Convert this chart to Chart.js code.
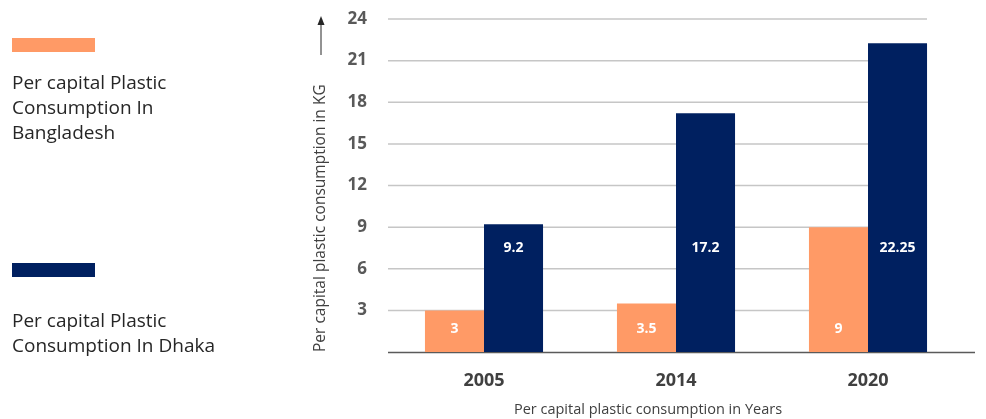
<!DOCTYPE html>
<html>
<head>
<meta charset="utf-8">
<title>Per capita plastic consumption</title>
<script src="https://cdn.jsdelivr.net/npm/chart.js@4.4.1/dist/chart.umd.min.js"></script>
<style>
  body { margin: 0; background: #fff; font-family: "Open Sans", sans-serif; }
  #wrap { position: relative; width: 986px; height: 419px; }
  #wrap canvas { position: absolute; left: 0; top: 0; }
  .swatch { position: absolute; left: 12px; width: 83px; height: 14px; }
  .keytext { position: absolute; left: 12px; font-size: 19px; line-height: 25px; color: #262626; }
</style>
</head>
<body>
<div id="wrap">
  <canvas id="plasticChart" width="986" height="419"></canvas>
  <span class="swatch" style="top:38px;background:#ff9a66"></span>
  <div class="keytext" style="top:70px">Per capital Plastic<br>Consumption In<br>Bangladesh</div>
  <span class="swatch" style="top:263px;background:#002060"></span>
  <div class="keytext" style="top:308px">Per capital Plastic<br>Consumption In Dhaka</div>
</div>
<script>
const years = ["2005", "2014", "2020"];
const bangladeshKg = [3, 3.5, 9];
const dhakaKg = [9.2, 17.2, 22.25];
const yTickValues = [3, 6, 9, 12, 15, 18, 21, 24];

Chart.defaults.font.family = "'Open Sans', sans-serif";

// gridlines stop at the last bar, baseline runs further right
const extras = {
  id: "extras",
  beforeDatasetsDraw(chart) {
    const { ctx, chartArea, scales: { y } } = chart;
    const lastMeta = chart.getDatasetMeta(chart.data.datasets.length - 1);
    const lastBar = lastMeta.data[lastMeta.data.length - 1];
    const gridRight = lastBar.x + lastBar.width / 2;

    ctx.save();
    ctx.strokeStyle = "#c6c6c6";
    ctx.lineWidth = 1.5;
    y.ticks.forEach(t => {
      const py = y.getPixelForValue(t.value);
      ctx.beginPath();
      ctx.moveTo(chartArea.left, py);
      ctx.lineTo(gridRight, py);
      ctx.stroke();
    });

    const base = y.getPixelForValue(0);
    ctx.strokeStyle = "#5a5a5a";
    ctx.lineWidth = 1.5;
    ctx.beginPath();
    ctx.moveTo(chartArea.left, base + 0.5);
    ctx.lineTo(chart.width - 11, base + 0.5);
    ctx.stroke();
    ctx.restore();
  },
  afterDatasetsDraw(chart) {
    const { ctx, scales: { y } } = chart;
    const labelLevel = [1.65, 7.5];
    ctx.save();
    ctx.fillStyle = "#ffffff";
    ctx.font = "bold 14px 'Open Sans', sans-serif";
    ctx.textAlign = "center";
    ctx.textBaseline = "middle";
    chart.data.datasets.forEach((ds, di) => {
      const py = y.getPixelForValue(labelLevel[di]);
      chart.getDatasetMeta(di).data.forEach((bar, i) => {
        ctx.fillText(String(ds.data[i]), bar.x, py);
      });
    });
    ctx.restore();
  },
  afterDraw(chart) {
    const { ctx } = chart;
    ctx.save();
    // arrow above the y title
    ctx.strokeStyle = "#262626";
    ctx.fillStyle = "#262626";
    ctx.lineWidth = 1;
    ctx.beginPath();
    ctx.moveTo(321, 55);
    ctx.lineTo(321, 22);
    ctx.stroke();
    ctx.beginPath();
    ctx.moveTo(321, 16);
    ctx.lineTo(317.5, 25);
    ctx.lineTo(324.5, 25);
    ctx.closePath();
    ctx.fill();

    ctx.fillStyle = "#404040";
    ctx.font = "14.5px 'Open Sans', sans-serif";
    ctx.textAlign = "center";
    ctx.textBaseline = "middle";
    ctx.fillText("Per capital plastic consumption in Years", 648, 410);
    ctx.restore();
  }
};

new Chart(document.getElementById("plasticChart"), {
  type: "bar",
  data: {
    labels: years,
    datasets: [
      {
        label: "Per capital Plastic Consumption In Bangladesh",
        data: bangladeshKg,
        backgroundColor: "#ff9a66"
      },
      {
        label: "Per capital Plastic Consumption In Dhaka",
        data: dhakaKg,
        backgroundColor: "#002060"
      }
    ]
  },
  options: {
    responsive: false,
    animation: false,
    categoryPercentage: 0.615,
    barPercentage: 1,
    layout: { padding: { left: 300, top: 19, right: 22, bottom: 0 } },
    plugins: {
      legend: { display: false },
      tooltip: { enabled: false }
    },
    scales: {
      x: {
        grid: { display: false },
        border: { display: false },
        ticks: { font: { size: 18, weight: "bold" }, color: "#404040", padding: 10 },
        afterFit: s => { s.height = 67; }
      },
      y: {
        min: 0,
        max: 24,
        grid: { display: false },
        border: { display: false },
        afterBuildTicks: s => { s.ticks = yTickValues.map(v => ({ value: v })); },
        ticks: { font: { size: 17, weight: "bold" }, color: "#595959", padding: 13 },
        title: {
          display: true,
          text: "Per capital plastic consumption in KG",
          align: "start",
          color: "#404040",
          font: { size: 15.5 },
          padding: { top: 11, bottom: 0 }
        },
        afterFit: s => {
          s.width = 88;
          s.paddingTop = 0;
          s.paddingBottom = 0;
        }
      }
    }
  },
  plugins: [extras]
});
</script>
</body>
</html>
